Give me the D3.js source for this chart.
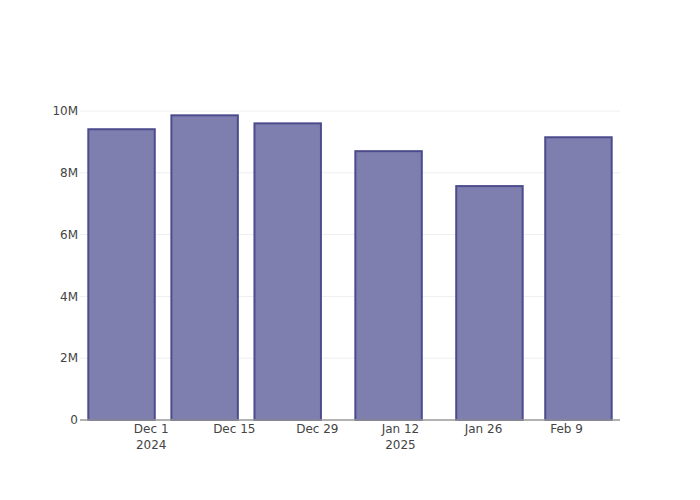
<!DOCTYPE html>
<html>
<head>
<meta charset="utf-8">
<script src="https://cdn.jsdelivr.net/npm/d3@7"></script>
<style>
  body { margin: 0; background: #fff; }
  text { font-family: "DejaVu Sans", verdana, arial, sans-serif; }
</style>
</head>
<body>
<div id="chart"></div>
<script>
// data
const dates = ["2024-11-26", "2024-12-10", "2024-12-24", "2025-01-10", "2025-01-27", "2025-02-11"];
const values = [9.41e6, 9.86e6, 9.60e6, 8.70e6, 7.57e6, 9.15e6];
const xTicks = ["2024-12-01", "2024-12-15", "2024-12-29", "2025-01-12", "2025-01-26", "2025-02-09"];
const yTicks = [0, 2e6, 4e6, 6e6, 8e6, 10e6];
const yTickLabels = ["0", "2M", "4M", "6M", "8M", "10M"];

const margin = { top: 100, right: 80, bottom: 80, left: 80 },
      width = 700 - margin.left - margin.right,
      height = 500 - margin.top - margin.bottom;

const DAY = 864e5;
const parse = s => new Date(s + "T00:00:00Z");
const data = dates.map((d, i) => ({ date: parse(d), value: values[i] }));

const svg = d3.select("#chart")
  .append("svg")
    .attr("width", width + margin.left + margin.right)
    .attr("height", height + margin.top + margin.bottom)
  .append("g")
    .attr("transform", `translate(${margin.left},${margin.top})`);

// x: time scale, padded by half the smallest gap
const x = d3.scaleUtc()
    .domain([new Date(+data[0].date - 7 * DAY), new Date(+data[data.length - 1].date + 7 * DAY)])
    .range([0, width]);

const y = d3.scaleLinear()
    .domain([0, 10.356e6])
    .range([height, 0]);

// gridlines
svg.append("g")
  .selectAll("line")
  .data(yTicks.slice(1))
  .enter()
  .append("line")
    .attr("x1", 0)
    .attr("x2", width)
    .attr("y1", d => y(d))
    .attr("y2", d => y(d))
    .style("stroke", "#eee")
    .style("stroke-width", 1);

// bars, 80% of the smallest gap (14 days)
const barW = x(new Date(+x.domain()[0] + 14 * DAY * 0.8)) - x(x.domain()[0]);
svg.append("g")
  .selectAll("rect")
  .data(data)
  .enter()
  .append("rect")
    .attr("x", d => x(d.date) - barW / 2)
    .attr("y", d => y(d.value))
    .attr("width", barW)
    .attr("height", d => height - y(d.value))
    .style("fill", "#7f7faf")
    .style("stroke", "#4b4b8d")
    .style("stroke-width", 2);

// x axis line
svg.append("line")
    .attr("x1", 0)
    .attr("x2", width)
    .attr("y1", height)
    .attr("y2", height)
    .style("stroke", "#999")
    .style("stroke-width", 1.5);

// x tick labels
const fmt = d3.utcFormat("%b %-d");
const xt = svg.append("g")
  .selectAll("text")
  .data(xTicks.map(parse))
  .enter()
  .append("text")
    .attr("text-anchor", "middle")
    .attr("x", d => x(d))
    .attr("y", height + 13)
    .style("fill", "#444")
    .style("font-size", "12px");
xt.append("tspan")
    .attr("x", d => x(d))
    .text(d => fmt(d));
xt.filter((d, i) => i === 0 || d.getUTCFullYear() !== parse(xTicks[i - 1]).getUTCFullYear())
  .append("tspan")
    .attr("x", d => x(d))
    .attr("dy", 16)
    .text(d => d.getUTCFullYear());

// y tick labels
svg.append("g")
  .selectAll("text")
  .data(yTicks)
  .enter()
  .append("text")
    .attr("text-anchor", "end")
    .attr("x", -2)
    .attr("y", d => y(d))
    .attr("dy", "0.35em")
    .style("fill", "#444")
    .style("font-size", "12px")
    .text((d, i) => yTickLabels[i]);
</script>
</body>
</html>
